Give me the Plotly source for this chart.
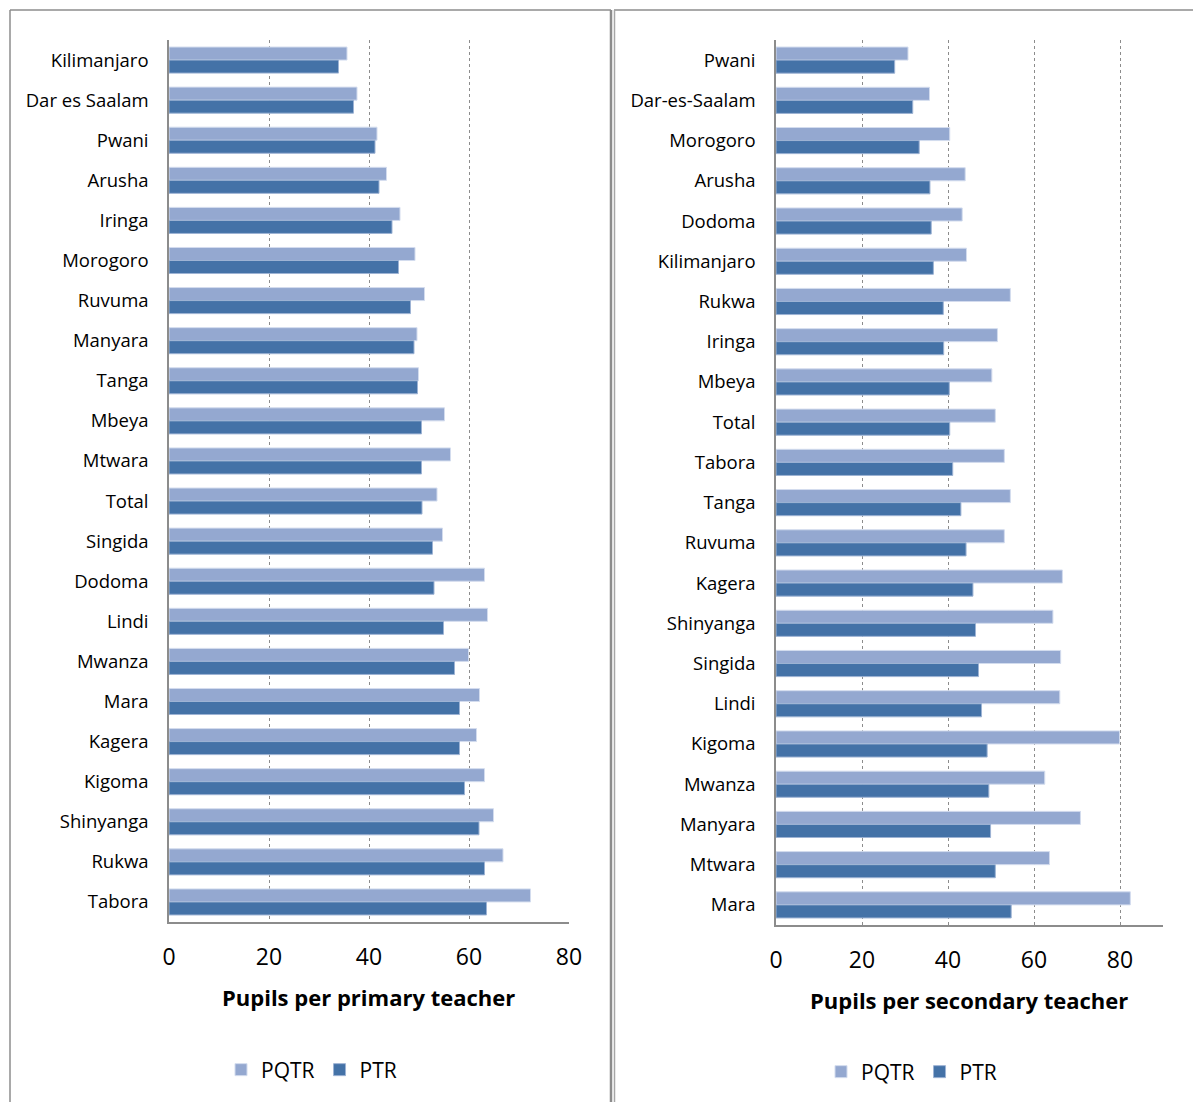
import plotly.graph_objects as go

# Primary schools: pupils per teacher by region
primary_regions = ["Kilimanjaro", "Dar es Saalam", "Pwani", "Arusha", "Iringa", "Morogoro",
                   "Ruvuma", "Manyara", "Tanga", "Mbeya", "Mtwara", "Total", "Singida",
                   "Dodoma", "Lindi", "Mwanza", "Mara", "Kagera", "Kigoma", "Shinyanga",
                   "Rukwa", "Tabora"]
primary_pqtr = [35.6, 37.6, 41.6, 43.5, 46.2, 49.2, 51.1, 49.6, 49.9, 55.1, 56.3, 53.6, 54.7,
                63.1, 63.7, 59.9, 62.1, 61.5, 63.1, 64.9, 66.8, 72.3]
primary_ptr = [33.9, 36.9, 41.2, 42.0, 44.6, 45.9, 48.3, 49.0, 49.7, 50.5, 50.5, 50.6, 52.7,
               53.0, 54.9, 57.1, 58.1, 58.1, 59.1, 62.0, 63.1, 63.5]

# Secondary schools: pupils per teacher by region
secondary_regions = ["Pwani", "Dar-es-Saalam", "Morogoro", "Arusha", "Dodoma", "Kilimanjaro",
                     "Rukwa", "Iringa", "Mbeya", "Total", "Tabora", "Tanga", "Ruvuma",
                     "Kagera", "Shinyanga", "Singida", "Lindi", "Kigoma", "Mwanza",
                     "Manyara", "Mtwara", "Mara"]
secondary_pqtr = [30.7, 35.7, 40.4, 44.0, 43.3, 44.3, 54.5, 51.5, 50.2, 51.0, 53.1, 54.5, 53.1,
                  66.6, 64.4, 66.2, 66.0, 79.9, 62.5, 70.8, 63.6, 82.4]
secondary_ptr = [27.6, 31.8, 33.3, 35.8, 36.1, 36.6, 38.9, 39.0, 40.3, 40.4, 41.1, 43.0, 44.2,
                 45.8, 46.4, 47.1, 47.8, 49.1, 49.5, 49.9, 51.0, 54.7]

x_ticks = [0, 20, 40, 60, 80]

W, H = 1193, 1102
FONT = "'Open Sans', sans-serif"
C_PQTR = "#94A8D0"
C_PTR = "#4472A7"
GRID = "#8C8C8C"


def px(x):
    return x / W


def py(y):
    return 1 - y / H


fig = go.Figure()

fig.add_trace(go.Bar(y=primary_regions, x=primary_pqtr, name="PQTR", orientation="h",
                     marker=dict(color=C_PQTR, line=dict(color="#D3DCEE", width=1)),
                     xaxis="x", yaxis="y", legend="legend"))
fig.add_trace(go.Bar(y=primary_regions, x=primary_ptr, name="PTR", orientation="h",
                     marker=dict(color=C_PTR, line=dict(color="#9DB3D4", width=1)),
                     xaxis="x", yaxis="y", legend="legend"))
fig.add_trace(go.Bar(y=secondary_regions, x=secondary_pqtr, name="PQTR", orientation="h",
                     marker=dict(color=C_PQTR, line=dict(color="#D3DCEE", width=1)),
                     xaxis="x2", yaxis="y2", legend="legend2"))
fig.add_trace(go.Bar(y=secondary_regions, x=secondary_ptr, name="PTR", orientation="h",
                     marker=dict(color=C_PTR, line=dict(color="#9DB3D4", width=1)),
                     xaxis="x2", yaxis="y2", legend="legend2"))

xcommon = dict(tickvals=x_ticks, showgrid=True, gridcolor=GRID, griddash="dot", gridwidth=1,
               zeroline=False, showline=True, linecolor="#8C8C8C", linewidth=1.5,
               ticks="outside", ticklen=14, tickcolor="rgba(0,0,0,0)", automargin=False,
               tickfont=dict(family=FONT, size=23, color="#000"), fixedrange=True)
ycommon = dict(type="category", autorange="reversed", showgrid=False, zeroline=False,
               showline=True, linecolor="#8C8C8C", linewidth=1.5,
               ticks="outside", ticklen=15, tickcolor="rgba(0,0,0,0)", automargin=False,
               tickfont=dict(family=FONT, size=18.5, color="#000"), fixedrange=True)

legend_style = dict(orientation="h", xanchor="left", yanchor="middle",
                    font=dict(family=FONT, size=21, color="#000"), bgcolor="rgba(0,0,0,0)",
                    itemclick=False, itemdoubleclick=False)

fig.update_layout(
    width=W, height=H, autosize=False,
    margin=dict(l=0, r=0, t=0, b=0, pad=0, autoexpand=False),
    paper_bgcolor="white", plot_bgcolor="white",
    barmode="group", bargap=0.35, bargroupgap=0,
    font=dict(family=FONT, color="#000"),
    xaxis=dict(xcommon, range=[0, 80], domain=[px(169), px(569)], anchor="y"),
    yaxis=dict(ycommon, domain=[py(922), py(40)], anchor="x"),
    xaxis2=dict(xcommon, range=[0, 90], domain=[px(776), px(1163)], anchor="y2"),
    yaxis2=dict(ycommon, domain=[py(925), py(40)], anchor="x2"),
    legend=dict(legend_style, x=px(221), y=py(1070)),
    legend2=dict(legend_style, x=px(821), y=py(1072)),
    showlegend=True,
)

# Axis titles
fig.add_annotation(text="<b>Pupils per primary teacher</b>", x=px(369), y=py(997),
                   xref="paper", yref="paper", showarrow=False, xanchor="center",
                   yanchor="middle", font=dict(family=FONT, size=22, color="#000"))
fig.add_annotation(text="<b>Pupils per secondary teacher</b>", x=px(969), y=py(1000),
                   xref="paper", yref="paper", showarrow=False, xanchor="center",
                   yanchor="middle", font=dict(family=FONT, size=22, color="#000"))

# Frames around the two panels
border = dict(color="#8C8C8C", width=1.5)
frames = [
    (10, 10, 10, H), (10, 10, 611, 10),          # primary panel left/top
    (614, 10, W, 10),                             # secondary panel top
]
for x0, y0, x1, y1 in frames:
    fig.add_shape(type="line", xref="paper", yref="paper", x0=px(x0), y0=py(y0),
                  x1=px(x1), y1=py(y1), line=border)
fig.add_shape(type="line", xref="paper", yref="paper", x0=px(611), y0=py(10),
              x1=px(611), y1=py(H), line=dict(color="#8C8C8C", width=2.5))
fig.add_shape(type="line", xref="paper", yref="paper", x0=px(614.5), y0=py(10),
              x1=px(614.5), y1=py(H), line=dict(color="#A6A6A6", width=1.5))

fig.write_html("out.html")
